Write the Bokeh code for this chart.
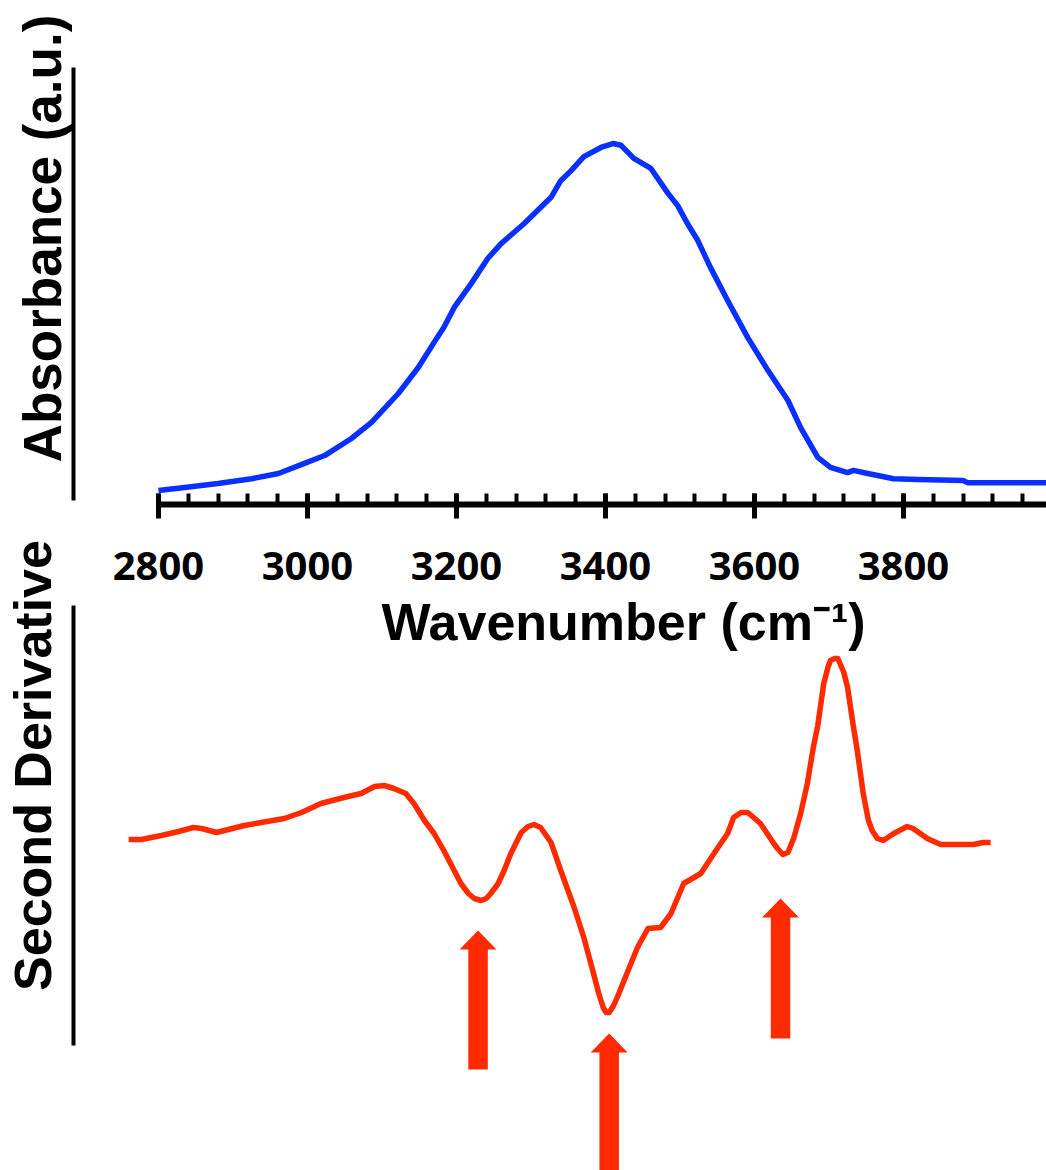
from bokeh.plotting import figure
from bokeh.layouts import column
from bokeh.models import Range1d, FixedTicker, Label
from bokeh.embed import file_html
from bokeh.resources import INLINE

# ---------------- data ----------------
abs_wn = [2800, 2835, 2880, 2925, 2961, 2996, 3023, 3059, 3086, 3122, 3149, 3170,
          3183, 3197, 3220, 3242, 3260, 3291, 3327, 3340, 3354, 3371, 3394, 3410,
          3421, 3438, 3461, 3484, 3497, 3510, 3524, 3541, 3564, 3591, 3618, 3645,
          3662, 3685, 3702, 3725, 3733, 3752, 3787, 3819, 3880, 3886, 3992]
abs_val = [0.032, 0.039, 0.048, 0.059, 0.071, 0.094, 0.112, 0.151, 0.188, 0.254,
           0.314, 0.371, 0.405, 0.451, 0.506, 0.563, 0.597, 0.643, 0.703, 0.741,
           0.764, 0.796, 0.817, 0.826, 0.822, 0.792, 0.769, 0.712, 0.684, 0.643,
           0.604, 0.542, 0.467, 0.382, 0.307, 0.238, 0.176, 0.108, 0.085, 0.073,
           0.078, 0.071, 0.059, 0.057, 0.055, 0.050, 0.050]

d2_wn = [2760, 2777, 2804, 2827, 2847, 2858, 2878, 2894, 2915, 2938, 2969, 2992,
         3018, 3049, 3072, 3090, 3103, 3116, 3132, 3143, 3157, 3170, 3183, 3197,
         3206, 3216, 3224, 3233, 3240, 3246, 3256, 3264, 3273, 3287, 3296, 3304,
         3313, 3327, 3340, 3358, 3371, 3384, 3391, 3397, 3401, 3405, 3411, 3418,
         3425, 3443, 3457, 3474, 3488, 3505, 3528, 3551, 3564, 3572, 3582, 3591,
         3599, 3608, 3626, 3631, 3638, 3645, 3653, 3662, 3671, 3679, 3685, 3693,
         3699, 3702, 3708, 3712, 3720, 3725, 3733, 3738, 3746, 3753, 3758, 3765,
         3773, 3787, 3805, 3813, 3832, 3850, 3894, 3907, 3917]
d2_val = [0.01, 0.01, 0.05, 0.09, 0.13, 0.12, 0.08, 0.11, 0.15, 0.18, 0.22, 0.28,
          0.37, 0.43, 0.47, 0.54, 0.55, 0.52, 0.47, 0.37, 0.20, 0.07, -0.10, -0.30,
          -0.43, -0.53, -0.58, -0.60, -0.58, -0.53, -0.43, -0.30, -0.13, 0.08, 0.14, 0.16,
          0.13, -0.02, -0.30, -0.67, -0.97, -1.33, -1.53, -1.67, -1.72, -1.72, -1.65, -1.53,
          -1.40, -1.07, -0.88, -0.87, -0.73, -0.43, -0.33, -0.07, 0.07, 0.23, 0.28, 0.28,
          0.23, 0.17, -0.03, -0.08, -0.14, -0.12, 0.03, 0.27, 0.57, 0.93, 1.15, 1.57,
          1.74, 1.80, 1.82, 1.82, 1.68, 1.53, 1.13, 0.90, 0.47, 0.20, 0.10, 0.02,
          0.00, 0.07, 0.14, 0.12, 0.02, -0.04, -0.04, -0.02, -0.02]

arrow_wn = [3229, 3405, 3635]
arrow_tip = [-0.90, -1.93, -0.58]
arrow_tail = [-2.29, -3.30, -1.98]

major_ticks = [2800, 3000, 3200, 3400, 3600, 3800]
minor_ticks = [2800 + 40 * k for k in range(30)]

x_title = "Wavenumber (cm\u207b\u00b9)"
y1_title = "Absorbance (a.u.)"
y2_title = "Second Derivative"

# ---------------- styles ----------------
BLUE = "#0a30ff"
RED = "#ff2a00"
W = 1046
X0, X1 = 2686, 3992
FRAME_W = W - 72

xr = Range1d(X0, X1)


def plain_left_axis(ax, title, size, standoff, bounds):
    ax.ticker = FixedTicker(ticks=[])
    ax.major_tick_in = 0
    ax.major_tick_out = 0
    ax.minor_tick_in = 0
    ax.minor_tick_out = 0
    ax.axis_line_width = 4
    ax.axis_line_color = "black"
    ax.bounds = bounds
    ax.axis_label = title
    ax.axis_label_text_font = "Liberation Sans"
    ax.axis_label_text_font_style = "bold"
    ax.axis_label_text_font_size = size
    ax.axis_label_text_color = "black"
    ax.axis_label_standoff = standoff


# ---------------- top panel ----------------
UP = 28                      # top panel raised so its title centres where the reference has it
Y1 = (0, (504 + UP) / 437)
p1 = figure(width=W, height=660 + UP, x_range=xr, y_range=Range1d(*Y1),
            output_backend="svg", toolbar_location=None,
            min_border_left=72, min_border_right=0, min_border_top=0,
            min_border_bottom=156, margin=(-UP, 0, 0, 0))
p1.grid.visible = False
p1.outline_line_color = None

p1.line(abs_wn, abs_val, line_width=5.5, color=BLUE, line_join="round")

xa = p1.xaxis[0]
xa.ticker = FixedTicker(ticks=major_ticks, minor_ticks=minor_ticks)
xa.bounds = (2800, X1)
xa.axis_line_width = 6
xa.axis_line_color = "black"
xa.major_tick_line_width = 5
xa.major_tick_in = 11
xa.major_tick_out = 14
xa.minor_tick_line_width = 4
xa.minor_tick_in = 11
xa.minor_tick_out = 0
xa.major_label_text_font = "Open Sans"
xa.major_label_text_font_style = "bold"
xa.major_label_text_font_size = "40px"
xa.major_label_text_color = "black"
xa.major_label_standoff = 33

plain_left_axis(p1.yaxis[0], y1_title, "53px", 2, (0.01, 1.0))

# ---------------- bottom panel ----------------
Y2 = (-3.30, 4.80)
P2_H = 810
p2 = figure(width=W, height=P2_H, x_range=xr, y_range=Range1d(*Y2),
            output_backend="svg", toolbar_location=None, x_axis_location=None,
            min_border_left=72, min_border_right=0, min_border_top=0,
            min_border_bottom=0, margin=(-300, 0, 0, 0))
p2.grid.visible = False
p2.outline_line_color = None
p2.background_fill_color = None
p2.border_fill_color = None

p2.line(d2_wn, d2_val, line_width=5.5, color=RED, line_join="round")

# block arrows (pixel sizes converted through the scales)
px_per_wn = FRAME_W / (X1 - X0)
px_per_y = P2_H / (Y2[1] - Y2[0])
head_hw = 18.5 / px_per_wn
shaft_hw = 9.75 / px_per_wn
head_h = 19 / px_per_y
axs, ays = [], []
for xc, tip, tail in zip(arrow_wn, arrow_tip, arrow_tail):
    hb = tip - head_h
    axs.append([xc, xc + head_hw, xc + shaft_hw, xc + shaft_hw,
                xc - shaft_hw, xc - shaft_hw, xc - head_hw])
    ays.append([tip, hb, hb, tail, tail, hb, hb])
p2.patches(axs, ays, fill_color=RED, line_color=None)

plain_left_axis(p2.yaxis[0], y2_title, "52px", 12, (-2.05, 2.35))

# x-axis title (sits inside the bottom panel's frame, which spans that area)
p2.add_layout(Label(x=550, y=549, x_units="screen", y_units="screen",
                    text=x_title, text_align="center", text_baseline="alphabetic",
                    text_font="Liberation Sans", text_font_style="bold",
                    text_font_size="52px", text_color="black"))

layout = column(p1, p2, spacing=0)
open("out.html", "w").write(file_html(layout, INLINE))
